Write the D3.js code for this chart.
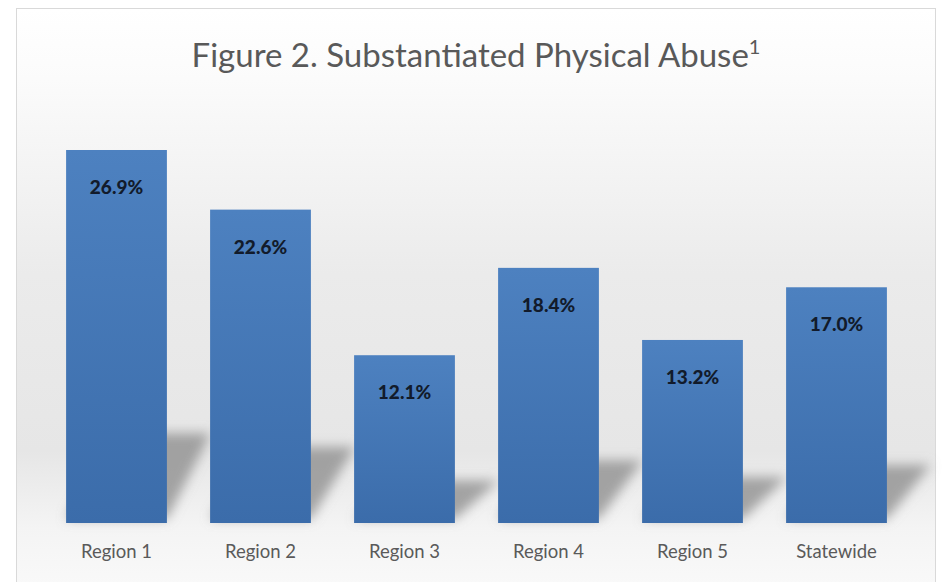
<!DOCTYPE html>
<html><head><meta charset="utf-8">
<script src="https://cdn.jsdelivr.net/npm/d3@7"></script>
<style>html,body{margin:0;padding:0;background:#fff;}svg{display:block;}</style>
</head><body>
<script>
const categories = ["Region 1","Region 2","Region 3","Region 4","Region 5","Statewide"];
const values = [26.9, 22.6, 12.1, 18.4, 13.2, 17.0];
const valueLabels = ["26.9%","22.6%","12.1%","18.4%","13.2%","17.0%"];
const titleText = "Figure 2. Substantiated Physical Abuse";

const W = 943, H = 582;
const svg = d3.select("body").append("svg").attr("width", W).attr("height", H);
const defs = svg.append("defs");

const bg = defs.append("linearGradient").attr("id","bg").attr("x1",0).attr("y1",0).attr("x2",0).attr("y2",1);
bg.append("stop").attr("offset","0%").attr("stop-color","#ffffff");
bg.append("stop").attr("offset","12%").attr("stop-color","#fbfbfb");
bg.append("stop").attr("offset","45%").attr("stop-color","#ebebeb");
bg.append("stop").attr("offset","75%").attr("stop-color","#e6e6e6");
bg.append("stop").attr("offset","88%").attr("stop-color","#f4f4f4");
bg.append("stop").attr("offset","100%").attr("stop-color","#fafafa");

const barG = defs.append("linearGradient").attr("id","barg").attr("x1",0).attr("y1",0).attr("x2",0).attr("y2",1);
barG.append("stop").attr("offset","0%").attr("stop-color","#4d81c0");
barG.append("stop").attr("offset","100%").attr("stop-color","#3b6caa");

defs.append("filter").attr("id","blur").attr("x","-50%").attr("y","-50%").attr("width","200%").attr("height","200%")
  .append("feGaussianBlur").attr("stdDeviation", 6);

svg.append("rect").attr("x",16.5).attr("y",8.5).attr("width",919).attr("height",590)
  .attr("fill","url(#bg)").attr("stroke","#d9d9d9").attr("stroke-width",1);

const x = d3.scaleBand().domain(categories).range([44.5, 908.5]).paddingInner(0.3).paddingOuter(0.15);
const y = d3.scaleLinear().domain([0, 26.9]).range([523, 150]);

const data = categories.map((c,i)=>({c, v: values[i], label: valueLabels[i]}));

// floor shadows
svg.append("g").attr("filter","url(#blur)").selectAll("path").data(data).join("path")
  .attr("d", d => {
    const x0 = x(d.c), x1 = x0 + x.bandwidth();
    const yb = y(0) - 4, h = (y(0) - y(d.v)) * 0.23;
    const dx = 44;
    return `M${x0},${yb} L${x1},${yb} L${x1+dx},${yb-h} L${x0+dx},${yb-h} Z`;
  })
  .attr("fill","#8a8a8a").attr("opacity",0.75);

svg.append("g").selectAll("rect").data(data).join("rect")
  .attr("x", d => x(d.c)).attr("y", d => y(d.v))
  .attr("width", x.bandwidth()).attr("height", d => y(0) - y(d.v))
  .attr("fill","url(#barg)");

svg.append("g").selectAll("text").data(data).join("text")
  .attr("x", d => x(d.c) + x.bandwidth()/2).attr("y", d => y(d.v) + 44)
  .attr("text-anchor","middle")
  .attr("font-family","Lato, 'Open Sans', sans-serif").attr("font-weight","900")
  .attr("font-size", 19).attr("fill","#121b2b")
  .text(d => d.label);

const xAxis = d3.axisBottom(x).tickSize(0).tickPadding(0);
const ax = svg.append("g").attr("transform", `translate(0,${y(0)})`).call(xAxis);
ax.select(".domain").remove();
ax.selectAll("text").attr("dy", 0).attr("y", 35)
  .attr("font-family","Lato, 'Open Sans', sans-serif").attr("font-size", 18.5).attr("fill","#5a5a5a");

const t = svg.append("text").attr("x", 476).attr("y", 67).attr("text-anchor","middle")
  .attr("font-family","Lato, 'Open Sans', sans-serif").attr("font-size", 33).attr("fill","#595959")
  .text(titleText);
t.append("tspan").attr("font-size", 20).attr("dy", -13).text("1");
</script>
</body></html>
